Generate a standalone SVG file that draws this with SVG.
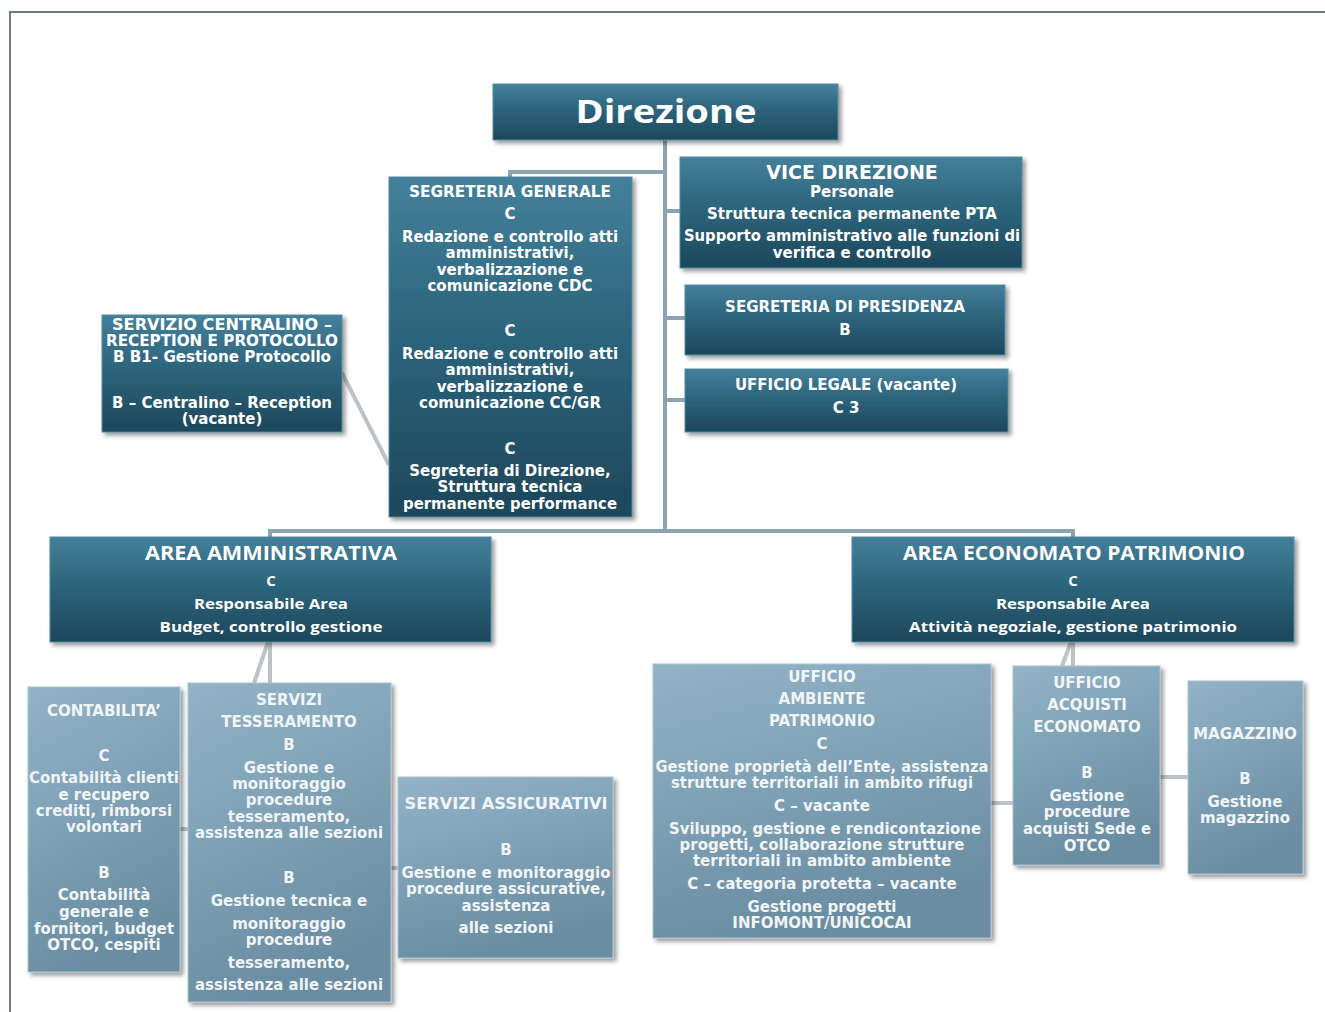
<svg xmlns="http://www.w3.org/2000/svg" width="1325" height="1012" viewBox="0 0 1325 1012">
<defs>
<linearGradient id="gd" x1="0" y1="0" x2="0" y2="1">
<stop offset="0" stop-color="#44809a"/>
<stop offset="0.45" stop-color="#2d657d"/>
<stop offset="1" stop-color="#1d475a"/>
</linearGradient>
<linearGradient id="gl" x1="0" y1="0" x2="0.3" y2="1">
<stop offset="0" stop-color="#93b3c6"/>
<stop offset="0.5" stop-color="#7ea1b6"/>
<stop offset="1" stop-color="#6a8da2"/>
</linearGradient>
<filter id="sh" x="-10%" y="-10%" width="130%" height="130%">
<feDropShadow dx="3" dy="3" stdDeviation="2" flood-color="#000" flood-opacity="0.4"/>
</filter>
</defs>
<style>
.dk{fill:url(#gd);stroke:#4f8aa3;stroke-width:1;filter:url(#sh)}
.lt{fill:url(#gl);stroke:#a8c3d2;stroke-width:1;filter:url(#sh)}
text{font-family:"DejaVu Sans",Verdana,sans-serif;font-weight:bold;font-size:15px;text-anchor:middle;fill:#ffffff}
.l text{fill:#f1f5f7}
text.cal{font-family:"Open Sans","Noto Sans",sans-serif;font-size:15px}
text.big{font-size:33px}
text.h19{font-size:19px}
.cn{fill:none;stroke:#8ba3b3;stroke-width:4}
.cg{fill:none;stroke:#bcc2c7;stroke-width:4}
</style>
<path d="M10,1012 V12 H1325" fill="none" stroke="#6f7a84" stroke-width="2"/>
<g id="connectors">
<path class="cn" d="M665,140 V531 M665,172 H510 V177 M665,211 H680 M665,318 H685 M665,400 H685 M270,537 V531 H1073 V537"/>
<path class="cg" stroke-width="3" d="M342,373 L389,465"/>
<path class="cg" d="M270,642 V683 M268,642 L254,683 M180,829 H188 M391,868 H398 M1073,642 V666 M1071,642 L1062,666 M991,803 H1013 M1160,777 H1188"/>
</g>
<g id="direzione">
<rect class="dk" x="493" y="84" width="345" height="56"/>
<text class="cal big" x="666" y="123" textLength="181" lengthAdjust="spacingAndGlyphs">Direzione</text>
</g>
<g id="segreteria-generale">
<rect class="dk" x="389" y="177" width="243" height="340"/>
<text x="510" y="197" textLength="202" lengthAdjust="spacingAndGlyphs">SEGRETERIA GENERALE</text>
<text x="510" y="219">C</text>
<text x="510" y="242" textLength="216" lengthAdjust="spacingAndGlyphs">Redazione e controllo atti</text>
<text x="510" y="258">amministrativi,</text>
<text x="510" y="275">verbalizzazione e</text>
<text x="510" y="291">comunicazione CDC</text>
<text x="510" y="336">C</text>
<text x="510" y="359" textLength="216" lengthAdjust="spacingAndGlyphs">Redazione e controllo atti</text>
<text x="510" y="375">amministrativi,</text>
<text x="510" y="392">verbalizzazione e</text>
<text x="510" y="408">comunicazione CC/GR</text>
<text x="510" y="454">C</text>
<text x="510" y="476">Segreteria di Direzione,</text>
<text x="510" y="492">Struttura tecnica</text>
<text x="510" y="509" textLength="214" lengthAdjust="spacingAndGlyphs">permanente performance</text>
</g>
<g id="vice-direzione">
<rect class="dk" x="680" y="157" width="342" height="111"/>
<text class="h19" x="852" y="179">VICE DIREZIONE</text>
<text x="852" y="197">Personale</text>
<text x="852" y="219">Struttura tecnica permanente PTA</text>
<text x="852" y="241" textLength="336" lengthAdjust="spacingAndGlyphs">Supporto amministrativo alle funzioni di</text>
<text x="852" y="258">verifica e controllo</text>
</g>
<g id="segreteria-presidenza">
<rect class="dk" x="685" y="285" width="320" height="70"/>
<text x="845" y="312">SEGRETERIA DI PRESIDENZA</text>
<text x="845" y="335">B</text>
</g>
<g id="ufficio-legale">
<rect class="dk" x="685" y="369" width="323" height="63"/>
<text x="846" y="390">UFFICIO LEGALE (vacante)</text>
<text x="846" y="413">C 3</text>
</g>
<g id="servizio-centralino">
<rect class="dk" x="102" y="315" width="240" height="117"/>
<text x="222" y="330" textLength="220" lengthAdjust="spacingAndGlyphs">SERVIZIO CENTRALINO –</text>
<text x="222" y="346" textLength="232" lengthAdjust="spacingAndGlyphs">RECEPTION E PROTOCOLLO</text>
<text x="222" y="362" textLength="218" lengthAdjust="spacingAndGlyphs">B B1- Gestione Protocollo</text>
<text x="222" y="408" textLength="220" lengthAdjust="spacingAndGlyphs">B – Centralino – Reception</text>
<text x="222" y="424">(vacante)</text>
</g>
<g id="area-amministrativa">
<rect class="dk" x="50" y="537" width="441" height="105"/>
<text class="cal h19" x="271" y="560" textLength="252" lengthAdjust="spacingAndGlyphs">AREA AMMINISTRATIVA</text>
<text class="cal" x="271" y="586">C</text>
<text class="cal" x="271" y="609" textLength="154" lengthAdjust="spacingAndGlyphs">Responsabile Area</text>
<text class="cal" x="271" y="632" textLength="223" lengthAdjust="spacingAndGlyphs">Budget, controllo gestione</text>
</g>
<g id="area-economato">
<rect class="dk" x="852" y="537" width="442" height="105"/>
<text class="cal h19" x="1074" y="560" textLength="342" lengthAdjust="spacingAndGlyphs">AREA ECONOMATO PATRIMONIO</text>
<text class="cal" x="1073" y="586">C</text>
<text class="cal" x="1073" y="609" textLength="154" lengthAdjust="spacingAndGlyphs">Responsabile Area</text>
<text class="cal" x="1073" y="632" textLength="328" lengthAdjust="spacingAndGlyphs">Attività negoziale, gestione patrimonio</text>
</g>
<g id="contabilita" class="l">
<rect class="lt" x="28" y="687" width="152" height="285"/>
<text x="104" y="716">CONTABILITA’</text>
<text x="104" y="761">C</text>
<text x="104" y="783" textLength="150" lengthAdjust="spacingAndGlyphs">Contabilità clienti</text>
<text x="104" y="800">e recupero</text>
<text x="104" y="816">crediti, rimborsi</text>
<text x="104" y="832">volontari</text>
<text x="104" y="878">B</text>
<text x="104" y="900">Contabilità</text>
<text x="104" y="917">generale e</text>
<text x="104" y="934" textLength="140" lengthAdjust="spacingAndGlyphs">fornitori, budget</text>
<text x="104" y="950">OTCO, cespiti</text>
</g>
<g id="servizi-tesseramento" class="l">
<rect class="lt" x="188" y="683" width="203" height="319"/>
<text x="289" y="705">SERVIZI</text>
<text x="289" y="727">TESSERAMENTO</text>
<text x="289" y="750">B</text>
<text x="289" y="773">Gestione e</text>
<text x="289" y="789">monitoraggio</text>
<text x="289" y="805">procedure</text>
<text x="289" y="822">tesseramento,</text>
<text x="289" y="838" textLength="188" lengthAdjust="spacingAndGlyphs">assistenza alle sezioni</text>
<text x="289" y="883">B</text>
<text x="289" y="906">Gestione tecnica e</text>
<text x="289" y="929">monitoraggio</text>
<text x="289" y="945">procedure</text>
<text x="289" y="968">tesseramento,</text>
<text x="289" y="990" textLength="188" lengthAdjust="spacingAndGlyphs">assistenza alle sezioni</text>
</g>
<g id="servizi-assicurativi" class="l">
<rect class="lt" x="398" y="777" width="215" height="181"/>
<text x="506" y="809" textLength="203" lengthAdjust="spacingAndGlyphs">SERVIZI ASSICURATIVI</text>
<text x="506" y="855">B</text>
<text x="506" y="878" textLength="209" lengthAdjust="spacingAndGlyphs">Gestione e monitoraggio</text>
<text x="506" y="894" textLength="200" lengthAdjust="spacingAndGlyphs">procedure assicurative,</text>
<text x="506" y="911">assistenza</text>
<text x="506" y="933">alle sezioni</text>
</g>
<g id="ufficio-ambiente" class="l">
<rect class="lt" x="653" y="664" width="338" height="274"/>
<text x="822" y="682">UFFICIO</text>
<text x="822" y="704">AMBIENTE</text>
<text x="822" y="726">PATRIMONIO</text>
<text x="822" y="749">C</text>
<text x="822" y="772" textLength="333" lengthAdjust="spacingAndGlyphs">Gestione proprietà dell’Ente, assistenza</text>
<text x="822" y="788" textLength="302" lengthAdjust="spacingAndGlyphs">strutture territoriali in ambito rifugi</text>
<text x="822" y="811">C  – vacante</text>
<text x="825" y="834" textLength="312" lengthAdjust="spacingAndGlyphs">Sviluppo, gestione e rendicontazione</text>
<text x="822" y="850">progetti, collaborazione strutture</text>
<text x="822" y="866">territoriali in ambito ambiente</text>
<text x="822" y="889">C – categoria protetta – vacante</text>
<text x="822" y="912">Gestione progetti</text>
<text x="822" y="928">INFOMONT/UNICOCAI</text>
</g>
<g id="ufficio-acquisti" class="l">
<rect class="lt" x="1013" y="666" width="147" height="199"/>
<text x="1087" y="688">UFFICIO</text>
<text x="1087" y="710">ACQUISTI</text>
<text x="1087" y="732">ECONOMATO</text>
<text x="1087" y="778">B</text>
<text x="1087" y="801">Gestione</text>
<text x="1087" y="817">procedure</text>
<text x="1087" y="834" textLength="128" lengthAdjust="spacingAndGlyphs">acquisti Sede e</text>
<text x="1087" y="851">OTCO</text>
</g>
<g id="magazzino" class="l">
<rect class="lt" x="1188" y="681" width="115" height="193"/>
<text x="1245" y="739" textLength="104" lengthAdjust="spacingAndGlyphs">MAGAZZINO</text>
<text x="1245" y="784">B</text>
<text x="1245" y="807">Gestione</text>
<text x="1245" y="823">magazzino</text>
</g>
</svg>
